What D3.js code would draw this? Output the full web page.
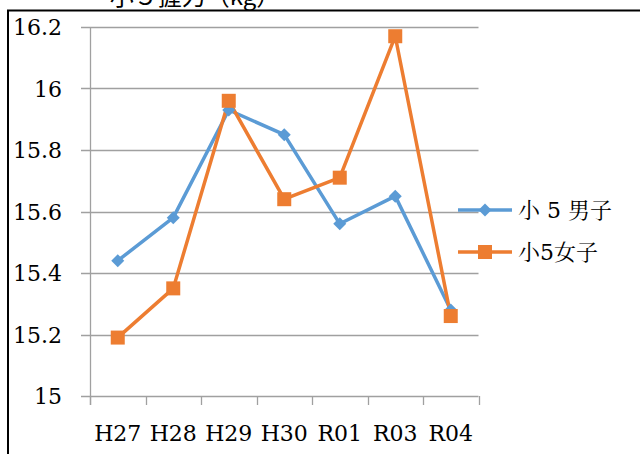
<!DOCTYPE html>
<html><head><meta charset="utf-8">
<script src="https://cdn.jsdelivr.net/npm/d3@7"></script>
<style>body{margin:0;background:#fff;}svg{display:block;}
.sf{font-family:"DejaVu Serif","Liberation Serif",serif;}
.jp{font-family:"DejaVu Serif","Noto Serif CJK JP","Noto Sans CJK JP",serif;}
</style>
</head><body>
<svg id="c" width="640" height="454"></svg>
<script>
const categories = ["H27","H28","H29","H30","R01","R03","R04"];
const boys = [15.44,15.58,15.93,15.85,15.56,15.65,15.28];
const girls = [15.19,15.35,15.96,15.64,15.71,16.17,15.26];
const yTicks = [15,15.2,15.4,15.6,15.8,16,16.2];
const seriesNames = ["小 5 男子","小5女子"];
const titleText = "小５握力（kg）";

const svg = d3.select("#c");

svg.append("text").attr("x",195).attr("y",5).attr("text-anchor","middle")
  .attr("font-family","'Noto Sans CJK JP',sans-serif").attr("font-size",24).attr("fill","#000").text(titleText);

svg.append("rect").attr("x",8).attr("y",10.5).attr("width",700).attr("height",500)
  .attr("fill","#fff").attr("stroke","#000").attr("stroke-width",2);

const x = d3.scaleBand().domain(categories).range([90,478.5]);
const y = d3.scaleLinear().domain([15,16.2]).range([396,27]);

const g = svg.append("g");
g.selectAll(".grid").data(yTicks).enter().append("line")
  .attr("x1",81).attr("x2",478.5).attr("y1",d=>Math.round(y(d))+0.5).attr("y2",d=>Math.round(y(d))+0.5)
  .attr("stroke","#a0a0a0").attr("stroke-width",1.3);
g.append("line").attr("x1",90.5).attr("x2",90.5).attr("y1",y(16.2)).attr("y2",y(15)+9)
  .attr("stroke","#a0a0a0").attr("stroke-width",1.3);
const xb = categories.map(c=>x(c)).concat([x.range()[1]]);
g.selectAll(".xt").data(xb).enter().append("line")
  .attr("x1",d=>Math.round(d)+0.5).attr("x2",d=>Math.round(d)+0.5).attr("y1",y(15)).attr("y2",y(15)+9)
  .attr("stroke","#a0a0a0").attr("stroke-width",1.3);

g.selectAll(".yl").data(yTicks).enter().append("text").attr("class","sf")
  .attr("x",62).attr("y",d=>y(d)+8).attr("text-anchor","end")
  .attr("font-size",22).attr("fill","#000").text(d=>d);
g.selectAll(".xl").data(categories).enter().append("text").attr("class","sf")
  .attr("x",d=>x(d)+x.bandwidth()/2).attr("y",441).attr("text-anchor","middle")
  .attr("font-size",22).attr("fill","#000").text(d=>d);

const cx = d=>x(d)+x.bandwidth()/2;
const line = d3.line().x((d,i)=>cx(categories[i])).y(d=>y(d));
const blue = "#5B9BD5", orange = "#ED7D31";

svg.append("path").datum(boys).attr("d",line).attr("fill","none").attr("stroke",blue).attr("stroke-width",3.5).attr("stroke-linejoin","round");
svg.append("path").datum(girls).attr("d",line).attr("fill","none").attr("stroke",orange).attr("stroke-width",3.5).attr("stroke-linejoin","round");

function drawDiamond(sel, px, py){
  sel.append("path").attr("d","M0,-6.5L6.5,0L0,6.5L-6.5,0Z").attr("transform",`translate(${px},${py})`).attr("fill",blue);
}
function drawSquare(sel, px, py){
  sel.append("rect").attr("x",px-7).attr("y",py-7).attr("width",14).attr("height",14).attr("fill",orange);
}
boys.forEach((v,i)=>drawDiamond(svg, cx(categories[i]), y(v)));
girls.forEach((v,i)=>drawSquare(svg, cx(categories[i]), y(v)));

const lg = svg.append("g");
const ly = [210,252];
lg.append("line").attr("x1",458).attr("x2",512).attr("y1",ly[0]).attr("y2",ly[0]).attr("stroke",blue).attr("stroke-width",3.5);
drawDiamond(lg,485,ly[0]);
lg.append("line").attr("x1",458).attr("x2",512).attr("y1",ly[1]).attr("y2",ly[1]).attr("stroke",orange).attr("stroke-width",3.5);
drawSquare(lg,485,ly[1]);
lg.selectAll(".lt").data(seriesNames).enter().append("text").attr("class","jp")
  .attr("x",518).attr("y",(d,i)=>ly[i]+8).attr("font-size",22).attr("fill","#000").text(d=>d);
</script>
</body></html>
